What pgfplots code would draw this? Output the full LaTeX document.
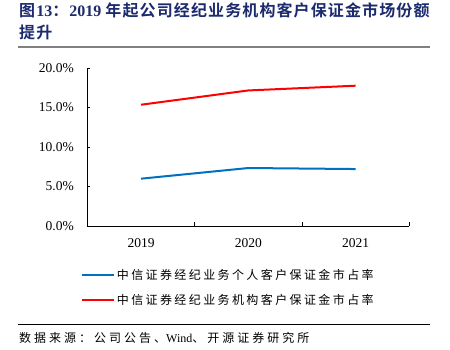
\documentclass[border=0pt]{standalone}
\usepackage{pgfplots}
\pgfplotsset{compat=1.18}
\usepackage{fontspec}
\setmainfont{Liberation Serif}
\newfontfamily\cjk{Noto Sans CJK SC}
\newfontfamily\cjksp[LetterSpace=20]{Noto Sans CJK SC}
\newfontfamily\cjksrc[LetterSpace=25]{Noto Sans CJK SC}
\newfontfamily\cjktitle[LetterSpace=7]{Noto Sans CJK SC Bold}
\definecolor{titleblue}{RGB}{28,42,110}
\definecolor{lblue}{RGB}{0,112,192}
\definecolor{lred}{RGB}{255,0,0}
\begin{document}
\begin{tikzpicture}[x=1pt,y=1pt]
\useasboundingbox (0,0) rectangle (450,-350);
\node[anchor=base west,inner sep=0pt,text=titleblue,font=\fontsize{16}{18}\selectfont] at (19,-17)
  {{\cjktitle 图}\textbf{13}{\cjktitle ：}\textbf{2019} {\cjktitle 年起公司经纪业务机构客户保证金市场份额}};
\node[anchor=base west,inner sep=0pt,text=titleblue,font=\fontsize{16}{18}\selectfont] at (19,-39)
  {{\cjktitle 提升}};
\draw[line width=1.7pt,gray] (18,-47) -- (430,-47);
\begin{axis}[
  at={(141pt,-226pt)}, anchor=origin,
  scale only axis, width=322pt, height=158pt,
  xmin=-0.5, xmax=2.5, ymin=0, ymax=20,
  axis x line*=bottom, axis y line*=left,
  axis line style={line width=0.8pt, black, -},
  xtick={0,1,2}, xticklabels={2019,2020,2021},
  minor xtick={0.5,1.5,2.5},
  major x tick style={draw=none},
  minor tick length=4pt,
  minor x tick style={black, line width=0.6pt},
  ytick={0,5,10,15,20},
  major tick length=3pt,
  y tick style={black, line width=0.6pt},
  tick align=inside,
  yticklabel={\pgfmathprintnumber[fixed,fixed zerofill,precision=1]{\tick}\%},
  /pgf/number format/assume math mode=true,
  yticklabel style={font=\fontsize{13.5}{15}\selectfont, xshift=-10pt},
  xticklabel style={font=\fontsize{13.5}{15}\selectfont, yshift=-9pt},
  legend style={at={(-0.03,-0.245)}, anchor=north west, draw=none, fill=none,
    font=\fontsize{12}{14}\selectfont\cjksp, row sep=10pt},
  legend cell align=left,
  legend image code/.code={\draw[#1] (0pt,0pt) -- (32pt,0pt);},
]
\addplot[lblue, line width=2pt] coordinates {(0,5.99) (1,7.34) (2,7.21)};
\addlegendentry{中信证券经纪业务个人客户保证金市占率}
\addplot[lred, line width=2pt] coordinates {(0,15.35) (1,17.16) (2,17.76)};
\addlegendentry{中信证券经纪业务机构客户保证金市占率}
\end{axis}
\draw[line width=0.8pt,black] (18,-324) -- (430,-324);
\node[anchor=base west,inner sep=0pt,font=\fontsize{12}{14}\selectfont] at (19,-342)
  {{\cjksrc 数据来源：公司公告、}Wind{\cjksrc 、开源证券研究所}};
\end{tikzpicture}
\end{document}
